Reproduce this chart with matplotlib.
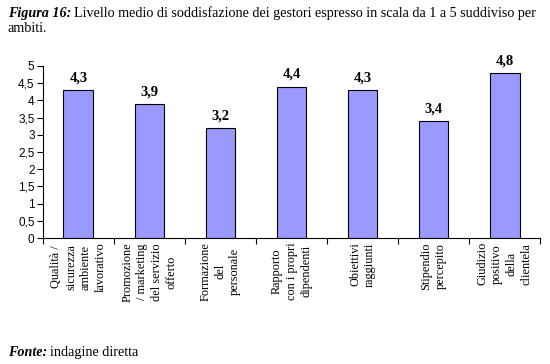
import matplotlib.pyplot as plt
from matplotlib.ticker import FixedLocator

# data
categories = [
    "Qualità /\nsicurezza\nambiente\nlavorativo",
    "Promozione\n/ marketing\ndel servizio\nofferto",
    "Formazione\ndel\npersonale",
    "Rapporto\ncon i propri\ndipendenti",
    "Obiettivi\nraggiunti",
    "Stipendio\npercepito",
    "Giudizio\npositivo\ndella\nclientela",
]
values = [4.3, 3.9, 3.2, 4.4, 4.3, 3.4, 4.8]
yticks = [0, 0.5, 1, 1.5, 2, 2.5, 3, 3.5, 4, 4.5, 5]

serif = "Liberation Serif"
sans = "Liberation Sans"

fig = plt.figure(figsize=(5.5, 3.64), dpi=100)
ax = fig.add_axes([0.078, 0.346, 0.904, 0.473])

x = list(range(len(values)))
bars = ax.bar(x, values, width=0.42, color="#9999ff", edgecolor="black", linewidth=0.8)

for b, v in zip(bars, values):
    ax.annotate(f"{v:.1f}".replace(".", ","), (b.get_x() + b.get_width() / 2, v),
                xytext=(0, 4), textcoords="offset points", ha="center", va="bottom",
                fontfamily=serif, fontweight="bold", fontsize=10.5)

ax.set_xlim(-0.5, len(values) - 0.5)
ax.set_ylim(0, 5)
ax.set_yticks(yticks)
ax.set_yticklabels([f"{t:g}".replace(".", ",") for t in yticks], fontfamily=sans, fontsize=8.5)

# category labels at centers, tick marks at boundaries
ax.set_xticks(x)
ax.set_xticklabels(categories, rotation=90, fontfamily=serif, fontsize=8.8,
                   va="top", ha="center", multialignment="center", linespacing=1.3)
ax.tick_params(axis="x", length=0, pad=3)
ax.xaxis.set_minor_locator(FixedLocator([i - 0.5 for i in range(len(values) + 1)]))
ax.tick_params(axis="x", which="minor", length=4, width=0.8, direction="out")
ax.tick_params(axis="y", length=4, width=0.8, direction="out", pad=2)

for s in ["top", "right"]:
    ax.spines[s].set_visible(False)
for s in ["left", "bottom"]:
    ax.spines[s].set_linewidth(0.8)

# caption with mixed styles
fs = 10.2
renderer = fig.canvas.get_renderer()
t1 = fig.text(8 / 550, 1 - 17 / 364, "Figura 16:", fontfamily=serif, fontweight="bold",
              fontstyle="italic", fontsize=fs, va="baseline")
bb = t1.get_window_extent(renderer)
fig.text((bb.x1 + 3) / 550, 1 - 17 / 364,
         "Livello medio di soddisfazione dei gestori espresso in scala da 1 a 5 suddiviso per",
         fontfamily=serif, fontsize=fs, va="baseline")
fig.text(8 / 550, 1 - 32 / 364, "ambiti.", fontfamily=serif, fontsize=fs, va="baseline")

t2 = fig.text(8 / 550, 1 - 356 / 364, "Fonte:", fontfamily=serif, fontweight="bold",
              fontstyle="italic", fontsize=fs, va="baseline")
bb = t2.get_window_extent(renderer)
fig.text((bb.x1 + 3) / 550, 1 - 356 / 364, "indagine diretta", fontfamily=serif,
         fontsize=fs, va="baseline")

fig.savefig("out.png", dpi=100)
